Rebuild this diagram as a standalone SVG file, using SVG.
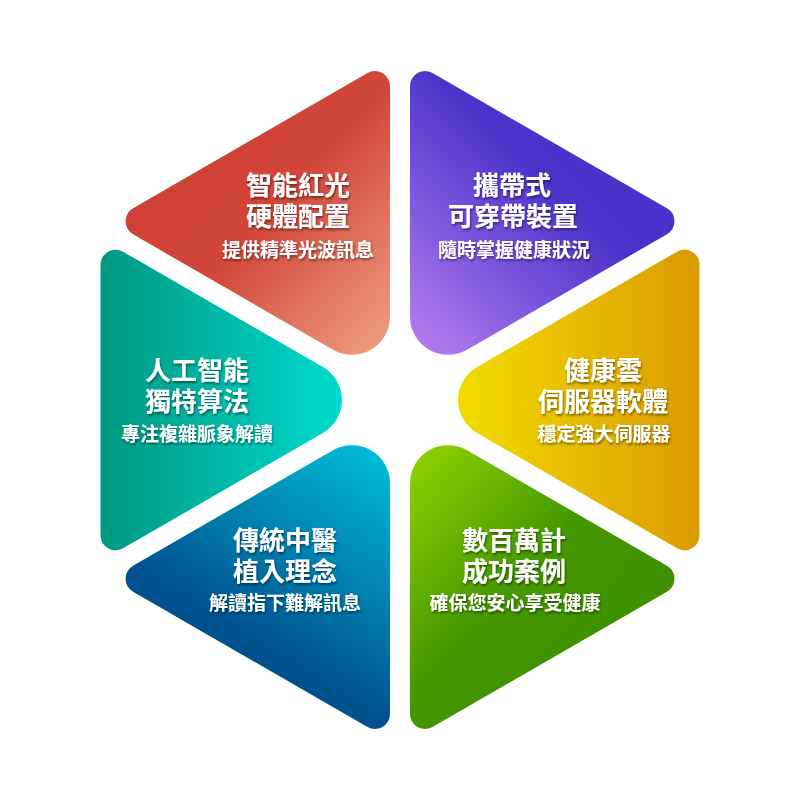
<svg xmlns="http://www.w3.org/2000/svg" width="800" height="800" viewBox="0 0 800 800">
<defs>
<linearGradient id="gRed" x1="0.2" y1="0.2" x2="1" y2="1">
<stop offset="0" stop-color="#CF3F33"/><stop offset="0.4" stop-color="#D2463A"/><stop offset="1" stop-color="#F0A283"/>
</linearGradient>
<linearGradient id="gPurple" x1="1" y1="0" x2="0.1" y2="1">
<stop offset="0" stop-color="#4530C8"/><stop offset="0.45" stop-color="#4A33CA"/><stop offset="1" stop-color="#B07AEE"/>
</linearGradient>
<linearGradient id="gYellow" x1="0" y1="0.5" x2="1" y2="0.5">
<stop offset="0" stop-color="#F2DC00"/><stop offset="1" stop-color="#DB9A00"/>
</linearGradient>
<linearGradient id="gGreen" x1="0" y1="0" x2="0.8" y2="0.8">
<stop offset="0" stop-color="#92D400"/><stop offset="0.55" stop-color="#449800"/><stop offset="1" stop-color="#3D8F00"/>
</linearGradient>
<linearGradient id="gBlue" x1="1" y1="0" x2="0.57" y2="0.75">
<stop offset="0" stop-color="#00C2DA"/><stop offset="1" stop-color="#00508E"/>
</linearGradient>
<linearGradient id="gTeal" x1="0" y1="0.5" x2="1" y2="0.5">
<stop offset="0" stop-color="#009880"/><stop offset="1" stop-color="#00DACF"/>
</linearGradient>
<filter id="sh" x="-20%" y="-50%" width="140%" height="200%">
<feDropShadow dx="1" dy="2" stdDeviation="1" flood-color="#000" flood-opacity="0.45"/>
</filter>
</defs>
<style>
text{font-family:"Noto Sans CJK TC","Noto Sans CJK SC",sans-serif;font-weight:bold;fill:#fff;text-anchor:middle;filter:url(#sh)}
.t{font-size:26px}
.s{font-size:19px}
</style>
<rect width="800" height="800" fill="#fff"/>
<g id="node-red">
<path fill="url(#gRed)" d="M333,349.77 L133.04,234.32 A15,15 0 0 1 133.04,208.34 L367.5,72.97 A15,15 0 0 1 390,85.96 L390,316.86 A38,38 0 0 1 333,349.77 Z"/>
<text class="t" x="298" y="195">智能紅光</text>
<text class="t" x="298" y="226">硬體配置</text>
<text class="s" x="298" y="257">提供精準光波訊息</text>
</g>
<g id="node-purple">
<path fill="url(#gPurple)" d="M410,316.86 L410,85.97 A15,15 0 0 1 432.5,72.98 L666.96,208.33 A15,15 0 0 1 666.96,234.32 L467,349.77 A38,38 0 0 1 410,316.86 Z"/>
<text class="t" x="512" y="195">攜帶式</text>
<text class="t" x="513" y="226">可穿帶裝置</text>
<text class="s" x="514" y="257">隨時掌握健康狀況</text>
</g>
<g id="node-yellow">
<path fill="url(#gYellow)" d="M477,367.09 L676.96,251.64 A15,15 0 0 1 699.46,264.64 L699.46,535.35 A15,15 0 0 1 676.96,548.35 L477,432.91 A38,38 0 0 1 477,367.09 Z"/>
<text class="t" x="603" y="380">健康雲</text>
<text class="t" x="603" y="411">伺服器軟體</text>
<text class="s" x="604" y="441">穩定強大伺服器</text>
</g>
<g id="node-green">
<path fill="url(#gGreen)" d="M467,450.23 L666.96,565.67 A15,15 0 0 1 666.96,591.66 L432.5,727.02 A15,15 0 0 1 410,714.03 L410,483.14 A38,38 0 0 1 467,450.23 Z"/>
<text class="t" x="514" y="550">數百萬計</text>
<text class="t" x="514" y="581">成功案例</text>
<text class="s" x="515" y="610">確保您安心享受健康</text>
</g>
<g id="node-blue">
<path fill="url(#gBlue)" d="M390,483.14 L390,714.03 A15,15 0 0 1 367.5,727.01 L133.05,591.65 A15,15 0 0 1 133.05,565.68 L333,450.23 A38,38 0 0 1 390,483.14 Z"/>
<text class="t" x="285" y="550">傳統中醫</text>
<text class="t" x="285" y="581">植入理念</text>
<text class="s" x="285" y="610">解讀指下難解訊息</text>
</g>
<g id="node-teal">
<path fill="url(#gTeal)" d="M323,432.91 L123.05,548.36 A15,15 0 0 1 100.56,535.35 L100.55,264.65 A15,15 0 0 1 123.04,251.66 L323,367.1 A38,38 0 0 1 323,432.91 Z"/>
<text class="t" x="197" y="380">人工智能</text>
<text class="t" x="197" y="411">獨特算法</text>
<text class="s" x="197" y="441">專注複雜脈象解讀</text>
</g>
<g id="connectors"/>
</svg>
